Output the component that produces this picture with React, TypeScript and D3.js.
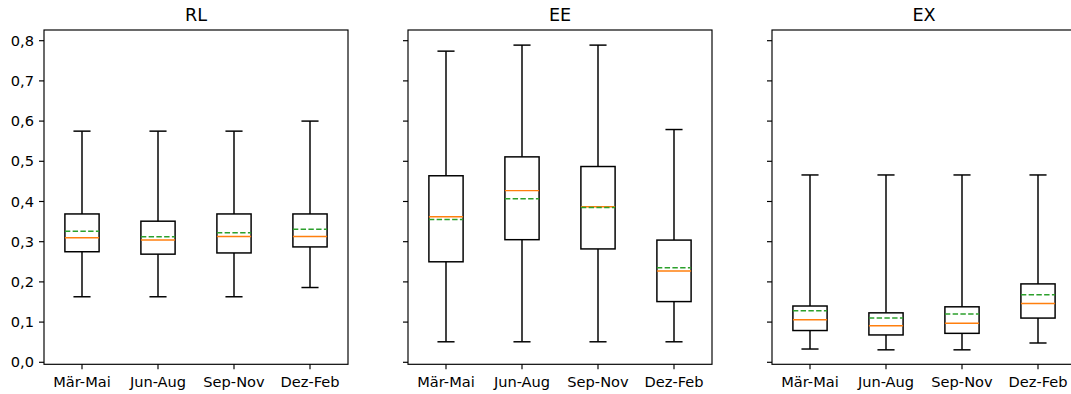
import React from "react";
import * as d3 from "d3";

// Seasons on the x axis
const seasons = ["Mär-Mai", "Jun-Aug", "Sep-Nov", "Dez-Feb"];

// Panel titles
const panelTitles = ["RL", "EE", "EX"];

// Box statistics per season: [lower whisker, Q1, median, mean, Q3, upper whisker]
const rlStats: number[][] = [
  [0.163, 0.275, 0.310, 0.326, 0.369, 0.575],
  [0.163, 0.269, 0.304, 0.3125, 0.351, 0.575],
  [0.163, 0.272, 0.313, 0.322, 0.369, 0.575],
  [0.186, 0.287, 0.313, 0.331, 0.369, 0.600],
];

const eeStats: number[][] = [
  [0.051, 0.250, 0.362, 0.355, 0.464, 0.774],
  [0.051, 0.305, 0.427, 0.407, 0.511, 0.789],
  [0.051, 0.282, 0.387, 0.385, 0.487, 0.789],
  [0.051, 0.151, 0.227, 0.235, 0.304, 0.579],
];

const exStats: number[][] = [
  [0.033, 0.079, 0.106, 0.128, 0.140, 0.466],
  [0.031, 0.068, 0.091, 0.110, 0.123, 0.466],
  [0.031, 0.072, 0.097, 0.120, 0.138, 0.466],
  [0.048, 0.110, 0.146, 0.168, 0.195, 0.466],
];

const yTickValues = [0, 0.1, 0.2, 0.3, 0.4, 0.5, 0.6, 0.7, 0.8];

const panelStats = [rlStats, eeStats, exStats];

const W = 1071;
const H = 394;
const FONT = "DejaVu Sans, Verdana, sans-serif";
const panelLefts = [44, 408, 772];
const panelWidth = 304;
const plotTop = 30;
const plotBottom = 364.3;

const boxWidth = 0.45;
const capWidth = boxWidth / 2;
const lw = 1.47;

const deLocale = d3.formatLocale({
  decimal: ",",
  thousands: ".",
  grouping: [3],
  currency: ["", " €"],
});
const fmt = deLocale.format(".1f");

const y = d3.scaleLinear().domain([-0.005, 0.8266]).range([plotBottom, plotTop]);

function Panel({ idx }: { idx: number }) {
  const left = panelLefts[idx];
  const x = d3
    .scaleLinear()
    .domain([0.5, seasons.length + 0.5])
    .range([left, left + panelWidth]);
  const stats = panelStats[idx];
  const showLabels = idx === 0;

  return (
    <g>
      <text
        x={left + panelWidth / 2}
        y={21}
        textAnchor="middle"
        fontFamily={FONT}
        fontSize={17.6}
        fill="#000"
      >
        {panelTitles[idx]}
      </text>

      {/* boxes */}
      {stats.map((s, i) => {
        const cx = x(i + 1);
        const half = (x(boxWidth) - x(0)) / 2;
        const capHalf = (x(capWidth) - x(0)) / 2;
        const [lo, q1, med, mean, q3, hi] = s;
        return (
          <g key={i}>
            <line x1={cx} x2={cx} y1={y(q3)} y2={y(hi)} stroke="#000" strokeWidth={lw} />
            <line x1={cx} x2={cx} y1={y(q1)} y2={y(lo)} stroke="#000" strokeWidth={lw} />
            <line x1={cx - capHalf} x2={cx + capHalf} y1={y(hi)} y2={y(hi)} stroke="#000" strokeWidth={lw} />
            <line x1={cx - capHalf} x2={cx + capHalf} y1={y(lo)} y2={y(lo)} stroke="#000" strokeWidth={lw} />
            <rect
              x={cx - half}
              y={y(q3)}
              width={half * 2}
              height={y(q1) - y(q3)}
              fill="none"
              stroke="#000"
              strokeWidth={lw}
            />
            <line x1={cx - half} x2={cx + half} y1={y(med)} y2={y(med)} stroke="#ff7f0e" strokeWidth={lw} />
            <line
              x1={cx - half}
              x2={cx + half}
              y1={y(mean)}
              y2={y(mean)}
              stroke="#2ca02c"
              strokeWidth={lw}
              strokeDasharray="5.4 2.35"
            />
          </g>
        );
      })}

      {/* frame */}
      <rect
        x={left}
        y={plotTop}
        width={panelWidth}
        height={plotBottom - plotTop}
        fill="none"
        stroke="#000"
        strokeWidth={1.17}
      />

      {/* y ticks */}
      {yTickValues.map((v) => (
        <g key={v}>
          <line x1={left - 5} x2={left} y1={y(v)} y2={y(v)} stroke="#000" strokeWidth={1.17} />
          {showLabels && (
            <text
              x={left - 10}
              y={y(v) + 5.2}
              textAnchor="end"
              fontFamily={FONT}
              fontSize={14.6}
              fill="#000"
            >
              {fmt(v)}
            </text>
          )}
        </g>
      ))}

      {/* x ticks */}
      {seasons.map((s, i) => (
        <g key={s}>
          <line x1={x(i + 1)} x2={x(i + 1)} y1={plotBottom} y2={plotBottom + 5} stroke="#000" strokeWidth={1.17} />
          <text
            x={x(i + 1)}
            y={386.5}
            textAnchor="middle"
            fontFamily={FONT}
            fontSize={14.6}
            fill="#000"
          >
            {s}
          </text>
        </g>
      ))}
    </g>
  );
}

export default function App() {
  return (
    <svg
      width={W}
      height={H}
      viewBox={`0 0 ${W} ${H}`}
      style={{ position: "absolute", left: 0, top: 0, background: "#fff" }}
    >
      <rect x={0} y={0} width={W} height={H} fill="#fff" />
      {panelTitles.map((_, i) => (
        <Panel key={i} idx={i} />
      ))}
    </svg>
  );
}
